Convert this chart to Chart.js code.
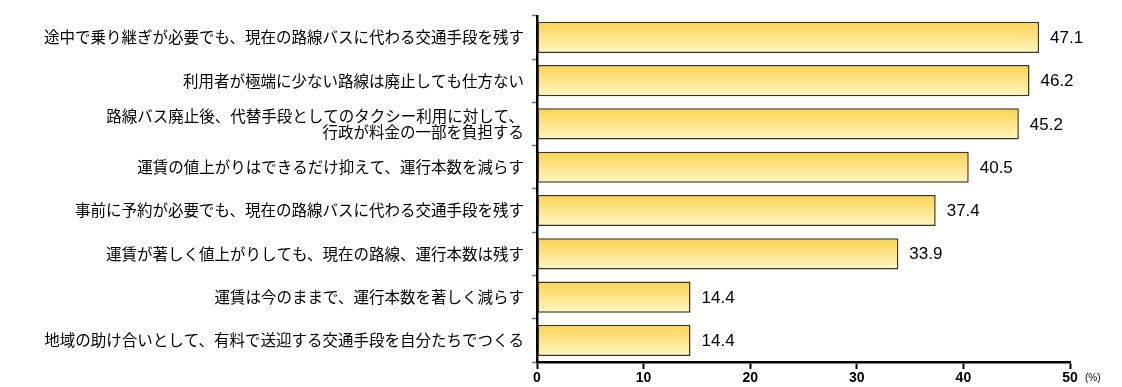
<!DOCTYPE html>
<html>
<head>
<meta charset="utf-8">
<script src="https://cdn.jsdelivr.net/npm/chart.js@4"></script>
<style>
  html, body { margin: 0; padding: 0; background: #fff; }
  #wrap { position: relative; width: 1122px; height: 387px; }
</style>
</head>
<body>
<div id="wrap"><canvas id="bar-chart"></canvas></div>
<script>
const categories = [
  "途中で乗り継ぎが必要でも、現在の路線バスに代わる交通手段を残す",
  "利用者が極端に少ない路線は廃止しても仕方ない",
  ["路線バス廃止後、代替手段としてのタクシー利用に対して、", "行政が料金の一部を負担する"],
  "運賃の値上がりはできるだけ抑えて、運行本数を減らす",
  "事前に予約が必要でも、現在の路線バスに代わる交通手段を残す",
  "運賃が著しく値上がりしても、現在の路線、運行本数は残す",
  "運賃は今のままで、運行本数を著しく減らす",
  "地域の助け合いとして、有料で送迎する交通手段を自分たちでつくる",
];
const values = [47.1, 46.2, 45.2, 40.5, 37.4, 33.9, 14.4, 14.4];
const xTicks = [0, 10, 20, 30, 40, 50];
const unitLabel = "(%)";

const CAT_PCT = 0.72;

// vertical gradient for each bar, from its own top to bottom
function barGradient(ctx) {
  const chart = ctx.chart;
  const y = chart.scales.y;
  if (!y || ctx.dataIndex === undefined) return "#fcd55a";
  const c = y.getPixelForValue(ctx.dataIndex);
  const h = (y.height / categories.length) * CAT_PCT;
  if (!isFinite(c) || !isFinite(h)) return "#fcd55a";
  const g = chart.ctx.createLinearGradient(0, c - h / 2, 0, c + h / 2);
  g.addColorStop(0, "#fcd350");
  g.addColorStop(1, "#fff6c4");
  return g;
}

// make sure each bar gets its gradient once the geometry is known
const barFill = {
  id: "barFill",
  beforeDatasetsDraw(chart) {
    const meta = chart.getDatasetMeta(0);
    meta.data.forEach((bar) => {
      if (Object.isFrozen(bar.options)) return;
      const g = chart.ctx.createLinearGradient(0, bar.y - bar.height / 2, 0, bar.y + bar.height / 2);
      g.addColorStop(0, "#fcd350");
      g.addColorStop(1, "#fff6c4");
      bar.options.backgroundColor = g;
    });
  },
};

const valueLabels = {
  id: "valueLabels",
  afterDatasetsDraw(chart) {
    const ctx = chart.ctx;
    const meta = chart.getDatasetMeta(0);
    ctx.save();
    ctx.font = "17px 'Liberation Sans', Arial, sans-serif";
    ctx.fillStyle = "#000";
    ctx.textAlign = "left";
    ctx.textBaseline = "middle";
    meta.data.forEach((bar, i) => {
      ctx.fillText(values[i].toFixed(1), bar.x + 11, bar.y + 1);
    });
    // unit next to the last x tick
    ctx.font = "10px 'Liberation Sans', Arial, sans-serif";
    ctx.fillText(unitLabel, chart.chartArea.right + 15, 378);
    ctx.restore();
  },
};

const config = {
  type: "bar",
  data: {
    labels: categories,
    datasets: [
      {
        data: values,
        backgroundColor: barGradient,
        borderColor: "#3b3520",
        borderWidth: 1.5,
        borderSkipped: false,
        categoryPercentage: CAT_PCT,
        barPercentage: 1.0,
      },
    ],
  },
  options: {
    indexAxis: "y",
    responsive: true,
    maintainAspectRatio: false,
    animation: false,
    layout: { padding: { top: 8, right: 52, bottom: 0, left: 0 } },
    plugins: {
      legend: { display: false },
      tooltip: { enabled: false },
    },
    scales: {
      x: {
        min: 0,
        max: 50,
        afterFit: (s) => { s.height = 25; },
        afterBuildTicks: (s) => { s.ticks = xTicks.map((v) => ({ value: v })); },
        border: { display: true, color: "#000", width: 2.5 },
        grid: {
          drawOnChartArea: false,
          drawTicks: true,
          tickLength: 7,
          tickWidth: 2,
          tickColor: "#000",
        },
        ticks: {
          color: "#000",
          padding: 1,
          font: { family: "'Liberation Sans', Arial, sans-serif", size: 14, weight: "bold" },
        },
      },
      y: {
        afterFit: (s) => { s.width = 537; },
        border: { display: true, color: "#000", width: 2.5 },
        grid: {
          offset: true,
          drawOnChartArea: false,
          drawTicks: true,
          tickLength: 5,
          tickWidth: 1.5,
          tickColor: "#777",
        },
        ticks: {
          color: "#000",
          padding: 8,
          autoSkip: false,
          font: { family: "'Noto Sans CJK JP', sans-serif", size: 15.5, lineHeight: 1.0 },
        },
      },
    },
  },
  plugins: [barFill, valueLabels],
};

new Chart(document.getElementById("bar-chart").getContext("2d"), config);
</script>
</body>
</html>
